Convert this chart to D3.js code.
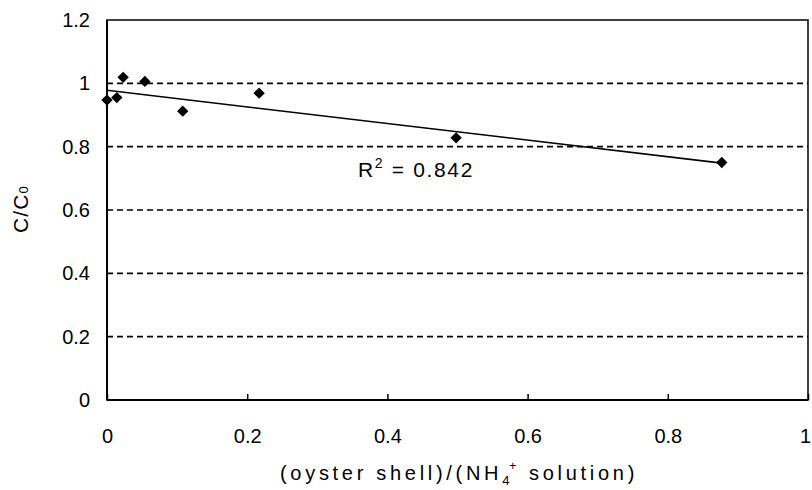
<!DOCTYPE html>
<html>
<head>
<meta charset="utf-8">
<script src="https://cdn.jsdelivr.net/npm/d3@7"></script>
<style>
  html, body { margin: 0; padding: 0; background: #fff; }
  svg { display: block; }
  text { font-family: "Liberation Sans", Arial, sans-serif; fill: #000; }
</style>
</head>
<body>
<svg id="chart" width="812" height="490"></svg>
<script>
// ---- data ----
const ratio = [0, 0.014, 0.023, 0.054, 0.108, 0.217, 0.498, 0.877];
const cOverC0 = [0.947, 0.955, 1.019, 1.006, 0.912, 0.969, 0.828, 0.750];
const trendX = [0, 0.877];
const trendY = [0.978, 0.748];
const xTicks = [0, 0.2, 0.4, 0.6, 0.8, 1];
const yTicks = [0, 0.2, 0.4, 0.6, 0.8, 1, 1.2];
const gridValues = [0.2, 0.4, 0.6, 0.8, 1];
const r2Label = "0.842";

const svg = d3.select("#chart");
const m = { left: 107, right: 4, top: 20, bottom: 90 };
const W = 812, H = 490;

const x = d3.scaleLinear().domain([0, 1]).range([m.left, W - m.right]);
const y = d3.scaleLinear().domain([0, 1.2]).range([H - m.bottom, m.top]);

// spread a text's letters so it spans the given width
function fitWidth(sel, target) {
  const node = sel.node();
  const n = node.textContent.length;
  const w = node.getComputedTextLength();
  sel.attr("letter-spacing", Math.max(0, (target - w) / n));
}

// gridlines
svg.append("g").selectAll("line").data(gridValues).join("line")
  .attr("x1", x(0)).attr("x2", x(1))
  .attr("y1", d => y(d)).attr("y2", d => y(d))
  .attr("stroke", "#000").attr("stroke-width", 1.6)
  .attr("stroke-dasharray", "6,4");

// frame
svg.append("rect")
  .attr("x", x(0)).attr("y", y(1.2))
  .attr("width", x(1) - x(0)).attr("height", y(0) - y(1.2))
  .attr("fill", "none").attr("stroke", "#000").attr("stroke-width", 1.5);
svg.append("line").attr("x1", x(0)).attr("x2", x(0)).attr("y1", y(0)).attr("y2", y(1.2))
  .attr("stroke", "#000").attr("stroke-width", 2);
svg.append("line").attr("x1", x(0)).attr("x2", x(1)).attr("y1", y(0)).attr("y2", y(0))
  .attr("stroke", "#000").attr("stroke-width", 2);

// axes (ticks inward)
const xAxis = d3.axisBottom(x).tickValues(xTicks).tickSizeInner(-6).tickSizeOuter(0)
  .tickPadding(29).tickFormat(d => d3.format("")(d));
const gx = svg.append("g").attr("transform", `translate(0,${y(0)})`).call(xAxis);
gx.select(".domain").remove();
gx.selectAll(".tick line").attr("stroke", "#000").attr("stroke-width", 1.5);
gx.selectAll("text").attr("font-size", 20).attr("font-family", "Liberation Sans, Arial, sans-serif").attr("fill", "#000");
gx.selectAll(".tick text").filter(d => d === 1).attr("dx", -3);

const yAxis = d3.axisLeft(y).tickValues(yTicks).tickSize(0).tickPadding(17)
  .tickFormat(d => d3.format("")(d));
const gy = svg.append("g").attr("transform", `translate(${x(0)},0)`).call(yAxis);
gy.select(".domain").remove();
gy.selectAll("text").attr("font-size", 20).attr("font-family", "Liberation Sans, Arial, sans-serif").attr("fill", "#000");

// trend line
svg.append("path")
  .datum(trendX.map((d, i) => [d, trendY[i]]))
  .attr("d", d3.line().x(d => x(d[0])).y(d => y(d[1])))
  .attr("fill", "none").attr("stroke", "#000").attr("stroke-width", 1.6);

// points (diamonds)
const sym = d3.symbol().type(d3.symbolSquare).size(64);
svg.append("g").selectAll("path").data(ratio.map((d, i) => [d, cOverC0[i]])).join("path")
  .attr("d", sym)
  .attr("transform", d => `translate(${x(d[0])},${y(d[1])}) rotate(45)`)
  .attr("fill", "#000");

// R^2 label
const r2 = svg.append("text").attr("x", 358).attr("y", 177).attr("font-size", 21);
r2.append("tspan").text("R");
r2.append("tspan").attr("dy", -9).attr("font-size", 14).text("2");
r2.append("tspan").attr("dy", 9).text(" = " + r2Label);
fitWidth(r2, 116);

// x title
const xt = svg.append("text").attr("x", 280).attr("y", 480).attr("font-size", 20);
xt.append("tspan").text("(oyster shell)/(NH");
xt.append("tspan").attr("dy", 5).attr("font-size", 13).text("4");
xt.append("tspan").attr("dy", -15).attr("dx", -4).attr("font-size", 12).text("+");
xt.append("tspan").attr("dy", 10).text(" solution)");
fitWidth(xt, 362);

// y title
const yt = svg.append("text").attr("transform", "translate(28,233) rotate(-90)")
  .attr("font-size", 21);
yt.append("tspan").text("C/C");
yt.append("tspan").attr("dy", 0).attr("font-size", 13).text("0");
fitWidth(yt, 48);
</script>
</body>
</html>
